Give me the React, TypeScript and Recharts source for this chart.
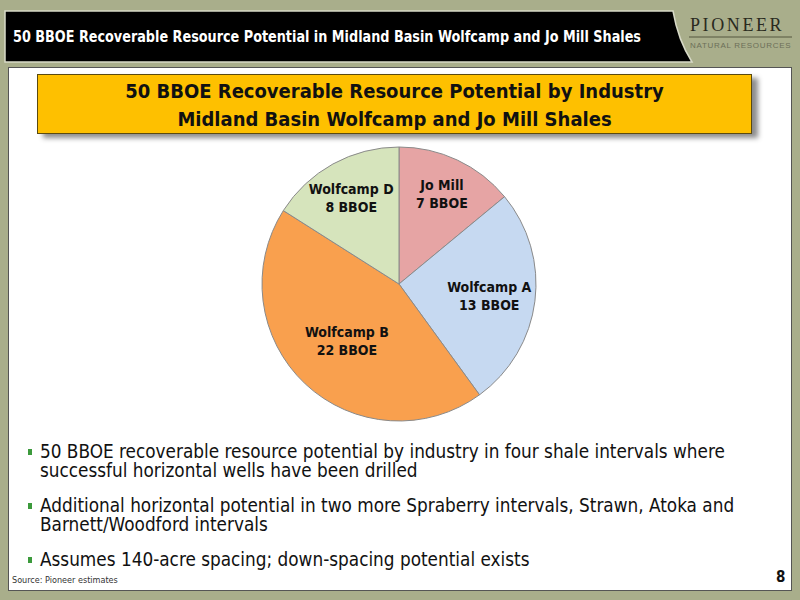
import React from "react";
import { PieChart, Pie, Cell } from "recharts";

// slice data (BBOE)
const intervals = ["Jo Mill", "Wolfcamp A", "Wolfcamp B", "Wolfcamp D"];
const volumes = [7, 13, 22, 8];
const sliceColors = ["#e6a4a4", "#c6d9f1", "#f9a04e", "#d6e4bc"];

const bullets = [
  "50 BBOE recoverable resource potential by industry in four shale intervals where successful horizontal wells have been drilled",
  "Additional horizontal potential in two more Spraberry intervals, Strawn, Atoka and Barnett/Woodford intervals",
  "Assumes 140-acre spacing; down-spacing potential exists",
];

const pieData = intervals.map((name, i) => ({ name, value: volumes[i] }));

const FONT = "'DejaVu Sans Condensed', 'DejaVu Sans', sans-serif";
const RAD = Math.PI / 180;

// bigger slices get their label pulled in a bit
function SliceLabel(props: any) {
  const { cx, cy, midAngle, outerRadius, name, value, percent } = props;
  const r = outerRadius * (0.82 - percent * 0.6);
  const x = cx + r * Math.cos(-midAngle * RAD);
  const y = cy + r * Math.sin(-midAngle * RAD);
  return (
    <text
      x={x}
      y={y}
      textAnchor="middle"
      fontFamily={FONT}
      fontWeight="bold"
      fontSize={14}
      fill="#111"
    >
      <tspan x={x} dy={-3}>{name}</tspan>
      <tspan x={x} dy={18}>{value} BBOE</tspan>
    </text>
  );
}

export default function App() {
  return (
    <div
      style={{
        position: "absolute",
        left: 0,
        top: 0,
        width: 800,
        height: 600,
        background: "#a9ae8b",
        fontFamily: FONT,
        overflow: "hidden",
      }}
    >
      {/* header bar */}
      <svg width={800} height={66} style={{ position: "absolute", left: 0, top: 0 }}>
        <path d="M5,11 L673,11 Q678,40 692,62 L5,62 Z" fill="#000" stroke="#d8dac8" strokeWidth={1.5} />
        <text
          x={13}
          y={42}
          fill="#fff"
          fontSize={16}
          fontWeight="bold"
          fontFamily={FONT}
          textLength={628}
          lengthAdjust="spacingAndGlyphs"
        >
          50 BBOE Recoverable Resource Potential in Midland Basin Wolfcamp and Jo Mill Shales
        </text>
        <line x1={689} y1={37} x2={792} y2={37} stroke="#55573f" strokeWidth={1} />
      </svg>

      {/* logo */}
      <div
        style={{
          position: "absolute",
          left: 690,
          top: 16,
          height: 19,
          lineHeight: "19px",
          fontFamily: "'Liberation Serif', serif",
          fontSize: 18,
          letterSpacing: 2.6,
          color: "#2a2a1e",
          whiteSpace: "nowrap",
        }}
      >
        PIONEER
      </div>
      <div
        style={{
          position: "absolute",
          left: 690,
          top: 41,
          height: 10,
          lineHeight: "10px",
          fontFamily: "'Liberation Sans', sans-serif",
          fontSize: 8,
          letterSpacing: 0.7,
          color: "#6c6e58",
          whiteSpace: "nowrap",
        }}
      >
        NATURAL RESOURCES
      </div>

      {/* content panel */}
      <div
        style={{
          position: "absolute",
          left: 8,
          top: 67,
          width: 784,
          height: 524,
          background: "#fff",
          border: "1px solid #555",
          boxSizing: "border-box",
        }}
      />

      {/* title box */}
      <div
        style={{
          position: "absolute",
          left: 37,
          top: 74,
          width: 715,
          height: 60,
          background: "#fec000",
          border: "1px solid #5a4a10",
          boxSizing: "border-box",
          boxShadow: "6px 4px 5px rgba(0,0,0,0.45)",
          textAlign: "center",
          fontWeight: "bold",
          fontSize: 20,
          lineHeight: "28px",
          paddingTop: 2,
          color: "#111",
        }}
      >
        <div>50 BBOE Recoverable Resource Potential by Industry</div>
        <div>Midland Basin Wolfcamp and Jo Mill Shales</div>
      </div>

      {/* pie */}
      <div style={{ position: "absolute", left: 249, top: 134 }}>
        <PieChart width={300} height={300} margin={{ top: 0, right: 0, bottom: 0, left: 0 }}>
          <Pie
            data={pieData}
            dataKey="value"
            nameKey="name"
            cx={150}
            cy={150}
            outerRadius={137}
            startAngle={90}
            endAngle={-270}
            stroke="#8a8a8a"
            strokeWidth={1}
            label={SliceLabel}
            labelLine={false}
            isAnimationActive={false}
          >
            {pieData.map((d, i) => (
              <Cell key={d.name} fill={sliceColors[i]} />
            ))}
          </Pie>
        </PieChart>
      </div>

      {/* bullets */}
      <div style={{ position: "absolute", left: 26, top: 442, width: 728, fontSize: 18.8, lineHeight: "19px", color: "#111" }}>
        {bullets.map((b) => (
          <div key={b} style={{ position: "relative", paddingLeft: 14, marginBottom: 16 }}>
            <span style={{ position: "absolute", left: 2, top: 7, width: 4, height: 6, background: "#3c9a3c" }} />
            {b}
          </div>
        ))}
      </div>

      <div style={{ position: "absolute", left: 12, top: 575, fontSize: 9, color: "#333" }}>Source: Pioneer estimates</div>
      <div style={{ position: "absolute", left: 776, top: 568, fontSize: 15, fontWeight: "bold", color: "#111" }}>8</div>
    </div>
  );
}
